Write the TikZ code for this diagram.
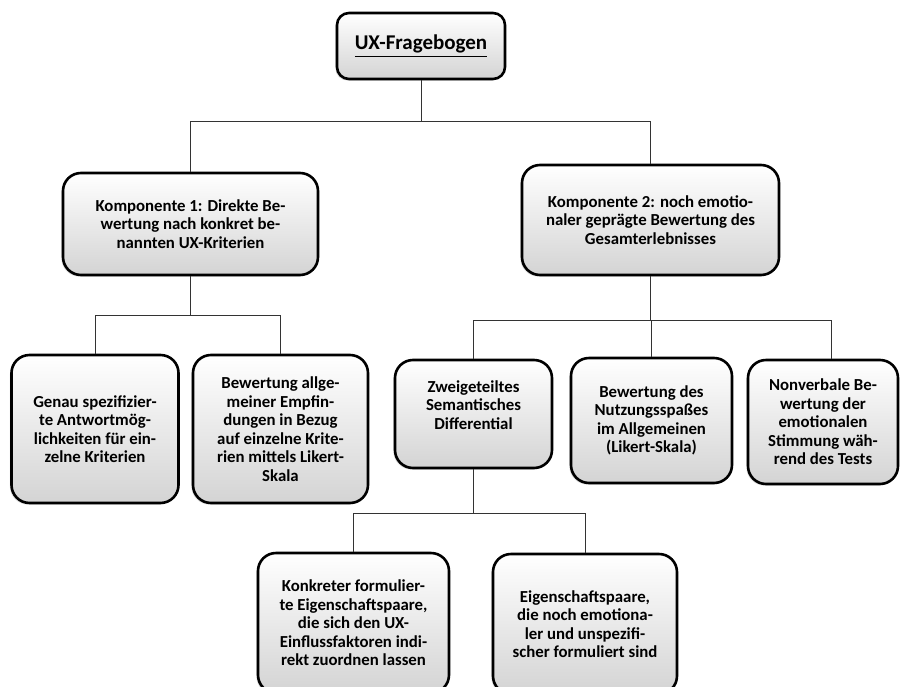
\documentclass[tikz,border=0pt]{standalone}
\usepackage{fontspec}
\setmainfont{Carlito}
\usetikzlibrary{shadows}

\begin{document}
\begin{tikzpicture}[x=0.5pt, y=-0.5pt,
    box/.style={draw=black, line width=1.3pt, rounded corners=9pt,
      top color=white, bottom color=black!17,
      drop shadow={shadow xshift=-0.8pt, shadow yshift=-0.8pt, opacity=0.25},
      align=center, inner sep=0pt, font=\bfseries\fontsize{8.4}{9.25}\selectfont},
    link/.style={draw=black!80, line width=0.5pt}]
      \useasboundingbox (0,0) rectangle (900,686);
      \clip (0,0) rectangle (900,686);
      % Questionnaire
      \node[box, rounded corners=6pt, minimum width=84pt, minimum height=33pt,
        font=\bfseries\fontsize{10.5}{12}\selectfont] (frage) at (421,46) {\underline{UX-Fragebogen}};
      % Components
      \node[box, minimum width=127.5pt, minimum height=51pt] (komp1) at (190.5,224)
        {Komponente 1: Direkte Be-\\wertung nach konkret be-\\nannten UX-Kriterien};
      \node[box, minimum width=128.5pt, minimum height=55pt] (komp2) at (650.5,220)
        {Komponente 2: noch emotio-\\naler geprägte Bewertung des\\Gesamterlebnisses};
      % Component 1
      \node[box, minimum width=83.5pt, minimum height=74pt] (genau) at (95,429)
        {Genau spezifizier-\\te Antwortmög-\\lichkeiten für ein-\\zelne Kriterien};
      \node[box, minimum width=87.5pt, minimum height=74pt] (likert) at (280.5,429)
        {Bewertung allge-\\meiner Empfin-\\dungen in Bezug\\auf einzelne Krite-\\rien mittels Likert-\\Skala};
      % Component 2
      \node[box, minimum width=78.5pt, minimum height=54pt] (semdiff) at (473.5,414)
        {Zweigeteiltes\\Semantisches\\Differential\\~};
      \node[box, minimum width=80.5pt, minimum height=62.5pt] (spass) at (651.5,420.5)
        {Bewertung des\\Nutzungsspaßes\\im Allgemeinen\\(Likert-Skala)};
      \node[box, minimum width=75pt, minimum height=62pt] (nonverbal) at (823,422)
        {Nonverbale Be-\\wertung der\\emotionalen\\Stimmung wäh-\\rend des Tests};
      % Differential
      \node[box, minimum width=95.5pt, minimum height=70pt] (konkret) at (353.5,623)
        {Konkreter formulier-\\te Eigenschaftspaare,\\die sich den UX-\\Einflussfaktoren indi-\\rekt zuordnen lassen};
      \node[box, minimum width=92pt, minimum height=70pt] (emotional) at (585,624)
        {Eigenschaftspaare,\\die noch emotiona-\\ler und unspezifi-\\scher formuliert sind};
      % Connectors
      \coordinate (jfrage) at (421,121);
      \coordinate (jkomp1) at (190.5,315);
      \coordinate (jkomp2) at (650.5,320);
      \coordinate (jsemdiff) at (473.5,513);
      \draw[link] (frage) -- (jfrage);
      \draw[link] (jfrage) -| (komp1);
      \draw[link] (jfrage) -| (komp2);
      \draw[link] (komp1) -- (jkomp1);
      \draw[link] (jkomp1) -| (genau);
      \draw[link] (jkomp1) -| (likert);
      \draw[link] (komp2) -- (jkomp2);
      \draw[link] (jkomp2) -| (semdiff);
      \draw[link] (jkomp2) -| (spass);
      \draw[link] (jkomp2) -| ([xshift=4pt]nonverbal.north);
      \draw[link] (semdiff) -- (jsemdiff);
      \draw[link] (jsemdiff) -| (konkret);
      \draw[link] (jsemdiff) -| (emotional);
\end{tikzpicture}
\end{document}
